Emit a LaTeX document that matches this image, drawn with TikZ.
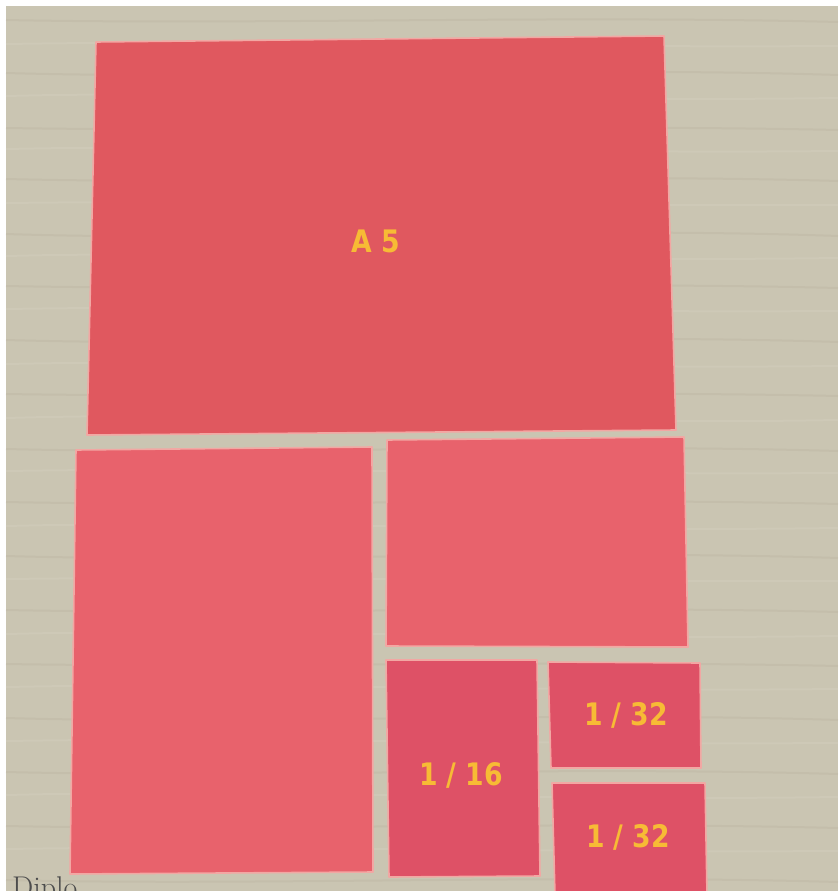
\documentclass[tikz,border=0pt]{standalone}
\usepackage{fontspec}
\newfontfamily\lab{DejaVu Sans}
\definecolor{wood}{HTML}{CAC5B2}
\definecolor{grainD}{HTML}{ACA592}
\definecolor{grainL}{HTML}{DEDACB}
\definecolor{paperA}{HTML}{E0585F}
\definecolor{paperB}{HTML}{E8626C}
\definecolor{paperC}{HTML}{DE5166}
\definecolor{edge}{HTML}{F2A7A3}
\definecolor{lbl}{HTML}{F7BB35}
\tikzset{
  paper/.style={draw=edge, line width=1.6pt, line join=round},
  lblstyle/.style={font=\lab\bfseries\fontsize{31}{31}\selectfont, text=lbl, xscale=0.86, inner sep=0pt},
  grain/.style={line width=2pt, opacity=0.2}
}
\begin{document}
\begin{tikzpicture}[x=1pt,y=-1pt]
\useasboundingbox (0,0) rectangle (838,891);
\begin{scope}
\clip (0,0) rectangle (838,891);
\fill[white] (0,0) rectangle (838,891);
\fill[wood] (6,6) rectangle (838,891);
% wood grain
\foreach \y/\c/\d in {20/grainD/5,44/grainL/-4,73/grainD/7,96/grainL/-6,128/grainD/4,149/grainL/-5,179/grainD/6,203/grainL/-3,234/grainD/8,256/grainL/-6,286/grainD/5,309/grainL/-4,340/grainD/7,364/grainL/-5,394/grainD/4,418/grainL/-7,449/grainD/6,471/grainL/-4,502/grainD/5,526/grainL/-6,556/grainD/7,579/grainL/-3,610/grainD/5,634/grainL/-6,664/grainD/4,687/grainL/-5,718/grainD/7,741/grainL/-4,772/grainD/6,795/grainL/-6,826/grainD/5,849/grainL/-4,880/grainD/6}
  \draw[grain,\c] (6,\y) .. controls (250,\y+\d) and (560,\y-\d) .. (838,\y+2);
% papers
\coordinate (a1) at (96,42);  \coordinate (a2) at (664,36);
\coordinate (a3) at (676,430); \coordinate (a4) at (87,435);
\fill[paper,fill=paperA] (a1) -- (a2) -- (a3) -- (a4) -- cycle;
\coordinate (b1) at (76,450);  \coordinate (b2) at (372,447);
\coordinate (b3) at (373,872); \coordinate (b4) at (70,874);
\fill[paper,fill=paperB] (b1) -- (b2) -- (b3) -- (b4) -- cycle;
\coordinate (c1) at (387,440); \coordinate (c2) at (684,437);
\coordinate (c3) at (688,647); \coordinate (c4) at (386,646);
\fill[paper,fill=paperB] (c1) -- (c2) -- (c3) -- (c4) -- cycle;
\coordinate (d1) at (386,660); \coordinate (d2) at (537,660);
\coordinate (d3) at (540,876); \coordinate (d4) at (389,877);
\fill[paper,fill=paperC] (d1) -- (d2) -- (d3) -- (d4) -- cycle;
\coordinate (e1) at (548,662); \coordinate (e2) at (700,663);
\coordinate (e3) at (701,768); \coordinate (e4) at (551,768);
\fill[paper,fill=paperC] (e1) -- (e2) -- (e3) -- (e4) -- cycle;
\coordinate (f1) at (552,783); \coordinate (f2) at (705,783);
\coordinate (f3) at (707,895); \coordinate (f4) at (555,895);
\fill[paper,fill=paperC] (f1) -- (f2) -- (f3) -- (f4) -- cycle;
% labels
\node[lblstyle] (a5) at (376,241) {A 5};
\node[lblstyle] (s16) at (461,775) {1 / 16};
\node[lblstyle] (s32a) at (626,715) {1 / 32};
\node[lblstyle] (s32b) at (628,837) {1 / 32};
% cut-off caption, as in the photograph
\node[anchor=north west, inner sep=0pt, text=black!70, font=\fontsize{30}{30}\selectfont] (cap) at (12,876) {Diplo};
\end{scope}
\end{tikzpicture}
\end{document}
